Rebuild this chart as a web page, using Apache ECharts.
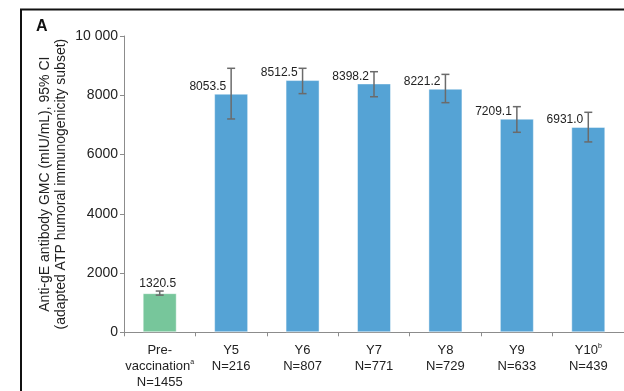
<!DOCTYPE html>
<html>
<head>
<meta charset="utf-8">
<style>
  html, body { margin: 0; padding: 0; background: #fff; }
  #chart { width: 624px; height: 391px; }
</style>
<script src="https://cdn.jsdelivr.net/npm/echarts@6/dist/echarts.min.js"></script>
</head>
<body>
<div id="chart"></div>
<script>
// Time points (first line), superscript note, and subset sizes
const timePoints = ['Pre-\nvaccination', 'Y5', 'Y6', 'Y7', 'Y8', 'Y9', 'Y10'];
const footnotes = ['a', '', '', '', '', '', 'b'];
const sampleSizes = [1455, 216, 807, 771, 729, 633, 439];

// Geometric mean concentrations and 95% CI bounds (mIU/mL)
const gmcValues = [1320.5, 8053.5, 8512.5, 8398.2, 8221.2, 7209.1, 6931.0];
const ciLower = [1255, 7200, 8055, 7950, 7750, 6750, 6425];
const ciUpper = [1392, 8910, 8910, 8795, 8705, 7615, 7425];

// Y-axis ticks
const yTicks = [0, 2000, 4000, 6000, 8000, 10000];

const BLUE = '#55a3d5';
const GREEN = '#77c69b';
const FONT = '"Liberation Sans", Arial, sans-serif';

const chart = echarts.init(document.getElementById('chart'), null, { renderer: 'canvas' });

const categories = timePoints.map((t, i) => t + '|' + footnotes[i] + '|N=' + sampleSizes[i]);

function formatTick(v) {
  return v >= 10000 ? String(v).replace(/(\d)(?=(\d{3})+$)/g, '$1 ') : String(v);
}

const barData = gmcValues.map((v, i) => {
  const item = {
    value: v,
    itemStyle: { color: i === 0 ? GREEN : BLUE }
  };
  if (i === 0) {
    item.label = { position: 'top', align: 'center', distance: 3, offset: [-2, 0] };
  }
  return item;
});

const errData = gmcValues.map((v, i) => [i, ciLower[i], ciUpper[i]]);

chart.setOption({
  animation: false,
  textStyle: { fontFamily: FONT },
  graphic: [
    {
      type: 'rect',
      shape: { x: 21, y: 9.5, width: 800, height: 600 },
      style: { fill: 'none', stroke: '#111', lineWidth: 2 },
      silent: true
    },
    {
      type: 'text',
      left: 36, top: 19,
      style: { text: 'A', font: 'bold 16px ' + FONT, fill: '#111' }
    }
  ],
  grid: { left: 124, right: -6, top: 36, bottom: 58.7, containLabel: false },
  xAxis: {
    type: 'category',
    data: categories,
    axisLine: { lineStyle: { color: '#8c8c8c', width: 1 } },
    axisTick: { show: true, length: 4, lineStyle: { color: '#8c8c8c' } },
    axisLabel: {
      interval: 0,
      margin: 10,
      color: '#222',
      fontSize: 13,
      lineHeight: 16,
      formatter: function (val) {
        const parts = val.split('|');
        const lines = parts[0].split('\n');
        const last = lines.length - 1;
        const out = lines.map((l, k) => k === last && parts[1] ? '{t|' + l + '}{sup|' + parts[1] + '}' : '{t|' + l + '}');
        out.push('{t|' + parts[2] + '}');
        return out.join('\n');
      },
      rich: {
        t: { fontSize: 13, lineHeight: 16, color: '#222', fontFamily: FONT },
        sup: { fontSize: 7, lineHeight: 16, color: '#222', verticalAlign: 'top', padding: [0, 0, 6, 0], fontFamily: FONT }
      }
    }
  },
  yAxis: {
    type: 'value',
    min: yTicks[0],
    max: yTicks[yTicks.length - 1],
    interval: yTicks[1] - yTicks[0],
    name: 'Anti-gE antibody GMC (mIU/mL), 95% CI\n(adapted ATP humoral immunogenicity subset)',
    nameLocation: 'middle',
    nameRotate: 90,
    nameGap: 55,
    nameMoveOverlap: false,
    nameTextStyle: { fontSize: 14, lineHeight: 16, color: '#222', fontFamily: FONT },
    axisLine: { show: true, lineStyle: { color: '#8c8c8c', width: 1 } },
    axisTick: { show: true, length: 4, lineStyle: { color: '#8c8c8c' } },
    splitLine: { show: false },
    axisLabel: { fontSize: 14, color: '#222', margin: 6, formatter: formatTick }
  },
  series: [
    {
      type: 'bar',
      data: barData,
      barWidth: 34,
      itemStyle: { borderColor: 'rgba(255,255,255,0.45)', borderWidth: 1 },
      label: {
        show: true,
        position: 'top',
        align: 'right',
        distance: 1,
        offset: [-5, 0],
        fontSize: 12,
        color: '#222',
        fontFamily: FONT,
        formatter: p => gmcValues[p.dataIndex].toFixed(1)
      },
      z: 2
    },
    {
      type: 'custom',
      data: errData,
      z: 5,
      renderItem: function (params, api) {
        const x = api.value(0);
        const lo = api.coord([x, api.value(1)]);
        const hi = api.coord([x, api.value(2)]);
        const cap = 4;
        const style = { stroke: '#6b6b6b', lineWidth: 1.5 };
        return {
          type: 'group',
          children: [
            { type: 'line', shape: { x1: lo[0], y1: lo[1], x2: hi[0], y2: hi[1] }, style },
            { type: 'line', shape: { x1: hi[0] - cap, y1: hi[1], x2: hi[0] + cap, y2: hi[1] }, style },
            { type: 'line', shape: { x1: lo[0] - cap, y1: lo[1], x2: lo[0] + cap, y2: lo[1] }, style }
          ]
        };
      }
    }
  ]
});
</script>
</body>
</html>
